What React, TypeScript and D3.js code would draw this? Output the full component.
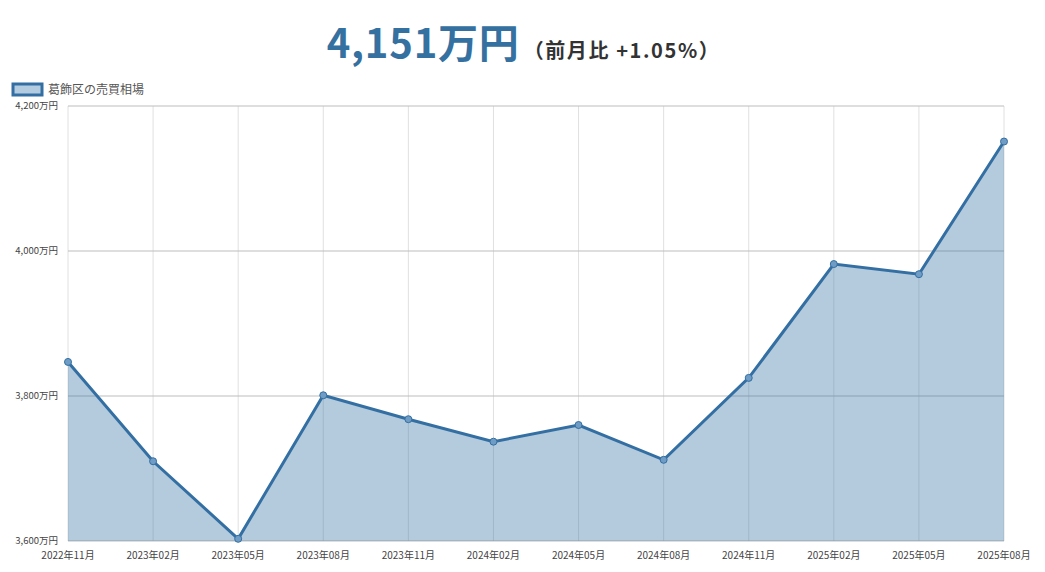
import React from "react";
import * as d3 from "d3";

const categories = [
  "2022年11月", "2023年02月", "2023年05月", "2023年08月", "2023年11月", "2024年02月",
  "2024年05月", "2024年08月", "2024年11月", "2025年02月", "2025年05月", "2025年08月",
];
const values = [3847, 3710, 3603, 3801, 3768, 3737, 3760, 3712, 3825, 3982, 3968, 4151];
const yTicks = [3600, 3800, 4000, 4200];
const seriesName = "葛飾区の売買相場";
const headline = "4,151万円";
const subline = "（前月比 +1.05%）";

const W = 1045, H = 572;
const margin = { left: 68, right: 41, top: 106, bottom: 31 };
const LINE = "#336fa2";
const FILL = "rgba(52,112,162,0.37)";
const FONT = "'Noto Sans CJK JP', 'Noto Sans', sans-serif";

export default function App() {
  const x = d3.scalePoint<string>().domain(categories).range([margin.left, W - margin.right]);
  const y = d3.scaleLinear().domain([3600, 4200]).range([H - margin.bottom, margin.top]);
  const pts: [number, number][] = values.map((v, i) => [x(categories[i])!, y(v)]);
  const line = d3.line()(pts)!;
  const area = d3.area().x((d) => d[0]).y0(y(3600)).y1((d) => d[1])(pts)!;
  const fmt = d3.format(",");
  return (
    <svg width={W} height={H} style={{ position: "absolute", left: 0, top: 0 }} fontFamily={FONT}>
      <rect width={W} height={H} fill="#fff" />
      <text x={W / 2 + 1} y={58} textAnchor="middle">
        <tspan fontSize={40} fontWeight={700} fill="#3470a0" letterSpacing={0.8}>{headline}</tspan>
        <tspan fontSize={20} fontWeight={700} fill="#333" dx={4} letterSpacing={1.6}>{subline}</tspan>
      </text>
      <rect x={13} y={84} width={29} height={11} fill="#b3cce0" stroke={LINE} strokeWidth={3} />
      <text x={48} y={94} fontSize={12} fill="#555">{seriesName}</text>
      {categories.map((c) => (
        <line key={c} x1={x(c)} x2={x(c)} y1={margin.top} y2={H - margin.bottom} stroke="#e0e0e0" strokeWidth={1} />
      ))}
      {yTicks.map((t) => (
        <line key={t} x1={margin.left} x2={W - margin.right} y1={y(t)} y2={y(t)} stroke="#bdbdbd" strokeWidth={1} />
      ))}
      <path d={area} fill={FILL} />
      <path d={line} fill="none" stroke={LINE} strokeWidth={3} />
      {pts.map((p, i) => (
        <circle key={i} cx={p[0]} cy={p[1]} r={3.5} fill="#6f9cc4" stroke={LINE} strokeWidth={1} />
      ))}
      {yTicks.map((t) => (
        <text key={t} x={58} y={y(t) + 3} textAnchor="end" fontSize={9.5} fill="#444">{fmt(t)}万円</text>
      ))}
      {categories.map((c) => (
        <text key={c} x={x(c)} y={559} textAnchor="middle" fontSize={10} fill="#444">{c}</text>
      ))}
    </svg>
  );
}
